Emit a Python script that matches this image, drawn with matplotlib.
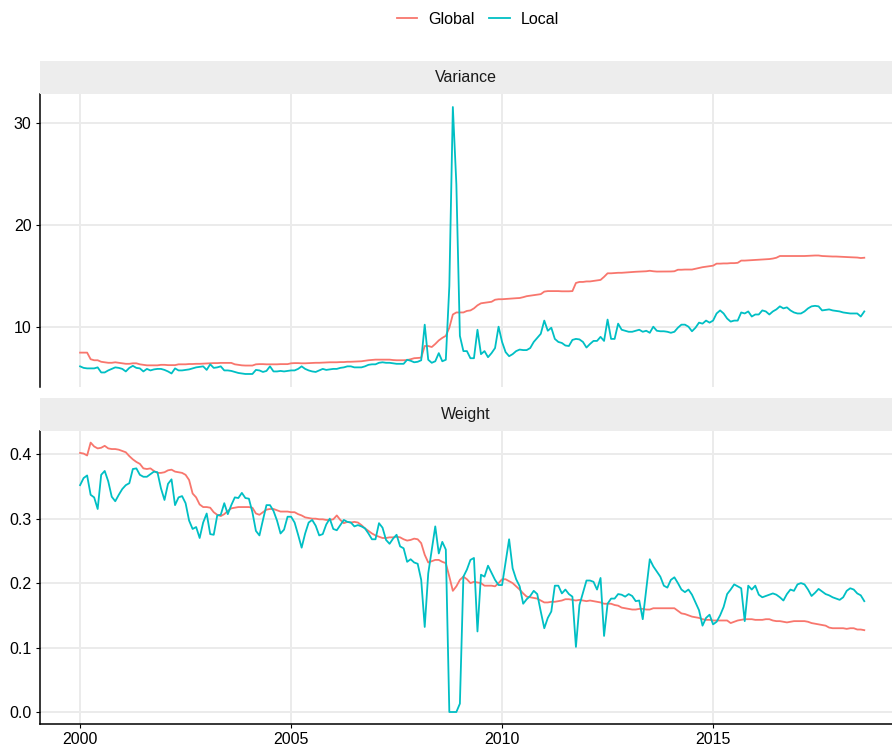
import numpy as np
import pandas as pd
import matplotlib
matplotlib.use("Agg")
import matplotlib.pyplot as plt
from matplotlib.lines import Line2D

plt.rcParams['font.family'] = ['Liberation Sans', 'DejaVu Sans']

# monthly observations, Jan 2000 .. Aug 2018
dates = pd.date_range("2000-01-01", periods=224, freq="MS")

variance_global = [
    7.45, 7.45, 7.45, 6.8, 6.7, 6.7, 6.55, 6.5, 6.45, 6.45, 6.5, 6.45,
    6.4, 6.35, 6.35, 6.4, 6.4, 6.3, 6.25, 6.2, 6.2, 6.2, 6.2, 6.25,
    6.25, 6.22, 6.22, 6.22, 6.3, 6.3, 6.3, 6.33, 6.33, 6.35, 6.35, 6.37,
    6.38, 6.4, 6.42, 6.42, 6.44, 6.44, 6.44, 6.44, 6.3, 6.25, 6.2, 6.18,
    6.18, 6.18, 6.3, 6.32, 6.32, 6.3, 6.3, 6.3, 6.3, 6.32, 6.32, 6.32,
    6.4, 6.42, 6.42, 6.4, 6.4, 6.42, 6.45, 6.45, 6.45, 6.47, 6.48, 6.5,
    6.5, 6.5, 6.52, 6.52, 6.55, 6.55, 6.57, 6.6, 6.6, 6.65, 6.7, 6.73,
    6.76, 6.76, 6.76, 6.76, 6.76, 6.72, 6.7, 6.7, 6.7, 6.72, 6.8, 6.9,
    6.92, 6.95, 8.1, 8.1, 8.0, 8.3, 8.65, 8.9, 9.1, 9.9, 11.2, 11.4,
    11.4, 11.4, 11.55, 11.6, 11.8, 12.1, 12.3, 12.35, 12.4, 12.45, 12.65, 12.7,
    12.7, 12.72, 12.75, 12.78, 12.8, 12.82, 12.9, 13.0, 13.05, 13.1, 13.15, 13.2,
    13.45, 13.5, 13.5, 13.5, 13.5, 13.48, 13.48, 13.48, 13.5, 14.3, 14.4, 14.4,
    14.45, 14.45, 14.5, 14.55, 14.6, 14.9, 15.25, 15.25, 15.28, 15.3, 15.3, 15.32,
    15.35, 15.38, 15.4, 15.42, 15.45, 15.45, 15.5, 15.45, 15.42, 15.42, 15.42, 15.42,
    15.43, 15.45, 15.6, 15.6, 15.62, 15.62, 15.62, 15.7, 15.78, 15.85, 15.9, 15.95,
    16.0, 16.2, 16.2, 16.22, 16.22, 16.25, 16.25, 16.28, 16.5, 16.5, 16.52, 16.55,
    16.55, 16.58, 16.6, 16.62, 16.65, 16.7, 16.78, 16.95, 16.95, 16.95, 16.95, 16.95,
    16.95, 16.95, 16.95, 16.97, 16.98, 17.0, 17.0, 16.95, 16.93, 16.92, 16.9, 16.9,
    16.88, 16.86, 16.85, 16.83, 16.82, 16.8, 16.75, 16.78,
]

variance_local = [
    6.1, 5.95, 5.9, 5.9, 5.9, 6.0, 5.5, 5.5, 5.7, 5.85, 6.0, 5.95,
    5.85, 5.6, 5.95, 6.15, 5.95, 5.9, 5.6, 5.85, 5.7, 5.8, 5.85, 5.85,
    5.75, 5.6, 5.4, 5.9, 5.7, 5.7, 5.75, 5.8, 5.9, 6.0, 6.05, 6.1,
    5.75, 6.3, 5.95, 6.0, 6.1, 5.7, 5.7, 5.65, 5.55, 5.45, 5.4, 5.35,
    5.35, 5.35, 5.75, 5.7, 5.55, 5.65, 6.1, 5.6, 5.6, 5.65, 5.6, 5.65,
    5.7, 5.7, 5.85, 6.1, 5.85, 5.7, 5.6, 5.55, 5.7, 5.85, 5.75, 5.8,
    5.85, 5.85, 5.95, 6.0, 6.1, 6.1, 6.0, 6.0, 6.0, 6.1, 6.25, 6.3,
    6.3, 6.45, 6.5, 6.45, 6.45, 6.4, 6.35, 6.35, 6.35, 6.75, 6.65, 6.5,
    6.55, 6.7, 10.2, 6.75, 6.45, 6.6, 7.4, 6.6, 6.75, 14.0, 31.6, 24.0,
    9.1, 7.6, 7.6, 6.9, 6.9, 9.7, 7.3, 7.6, 7.0, 7.4, 7.9, 10.0,
    8.5, 7.5, 7.1, 7.3, 7.6, 7.75, 7.7, 7.7, 7.9, 8.5, 8.9, 9.3,
    10.6, 9.6, 9.9, 8.8, 8.5, 8.4, 8.15, 8.1, 8.7, 8.8, 8.75, 8.5,
    7.95, 8.3, 8.6, 8.6, 9.0, 8.6, 10.7, 8.8, 8.8, 10.3, 9.7, 9.6,
    9.5, 9.5, 9.6, 9.7, 9.5, 9.6, 9.4, 10.0, 9.6, 9.55, 9.55, 9.5,
    9.4, 9.5, 9.9, 10.2, 10.2, 10.0, 9.55, 9.9, 10.4, 10.3, 10.6, 10.4,
    10.6, 11.3, 11.6, 11.3, 10.8, 10.5, 10.6, 10.6, 11.4, 11.3, 11.5, 11.0,
    11.2, 11.2, 11.6, 11.5, 11.2, 11.5, 11.7, 12.0, 11.8, 11.9, 11.6, 11.4,
    11.3, 11.3, 11.5, 11.8, 12.0, 12.05, 12.0, 11.6, 11.65, 11.7, 11.6, 11.55,
    11.5, 11.4, 11.35, 11.3, 11.3, 11.3, 11.0, 11.5,
]

weight_global = [
    0.402, 0.401, 0.398, 0.418, 0.412, 0.409, 0.41, 0.413, 0.409, 0.408, 0.408, 0.407,
    0.405, 0.403, 0.397, 0.392, 0.388, 0.385, 0.378, 0.377, 0.378, 0.374, 0.371, 0.371,
    0.372, 0.375, 0.376, 0.373, 0.372, 0.371, 0.368, 0.36, 0.339, 0.333, 0.322, 0.318,
    0.318, 0.317, 0.31, 0.306, 0.304, 0.307, 0.312, 0.316, 0.317, 0.318, 0.318, 0.318,
    0.318, 0.317, 0.308, 0.306, 0.31, 0.314, 0.315, 0.315, 0.313, 0.311, 0.311, 0.311,
    0.31, 0.31, 0.307, 0.305, 0.302, 0.301, 0.3, 0.3, 0.299, 0.299, 0.298, 0.298,
    0.299, 0.305, 0.298, 0.293, 0.295, 0.294, 0.295, 0.294, 0.29, 0.285, 0.281, 0.277,
    0.274, 0.272, 0.27, 0.27, 0.271, 0.271, 0.272, 0.271, 0.268, 0.266, 0.267, 0.269,
    0.268, 0.262, 0.244, 0.232, 0.234, 0.236, 0.236, 0.233, 0.231, 0.21, 0.188, 0.195,
    0.205, 0.21, 0.206, 0.2, 0.202, 0.201, 0.2, 0.196, 0.196, 0.196, 0.195, 0.2,
    0.206, 0.206, 0.203, 0.2, 0.195, 0.19, 0.184, 0.179, 0.178, 0.177, 0.176, 0.173,
    0.17, 0.17, 0.171, 0.171, 0.172, 0.173, 0.175, 0.175, 0.174, 0.173, 0.174, 0.173,
    0.172, 0.173, 0.172, 0.171, 0.17, 0.168, 0.168, 0.168, 0.166, 0.165, 0.162, 0.161,
    0.16, 0.159, 0.159, 0.16, 0.16, 0.159, 0.159, 0.161, 0.161, 0.161, 0.161, 0.161,
    0.161, 0.161, 0.157, 0.153, 0.152, 0.15, 0.148, 0.147, 0.146, 0.144, 0.143, 0.143,
    0.142, 0.142, 0.142, 0.142, 0.142, 0.138, 0.14, 0.142, 0.143, 0.144, 0.144, 0.144,
    0.143, 0.143, 0.143, 0.144, 0.144, 0.142, 0.141, 0.141, 0.14, 0.139, 0.14, 0.141,
    0.141, 0.141, 0.141, 0.14, 0.138, 0.137, 0.136, 0.135, 0.134, 0.131, 0.13, 0.13,
    0.13, 0.13, 0.129, 0.13, 0.13, 0.128, 0.128, 0.127,
]

weight_local = [
    0.352, 0.363, 0.367, 0.337, 0.333, 0.315, 0.368, 0.374, 0.358, 0.334, 0.327, 0.337,
    0.346, 0.352, 0.355, 0.377, 0.378, 0.368, 0.365, 0.365, 0.369, 0.373, 0.372, 0.347,
    0.329, 0.354, 0.361, 0.321, 0.333, 0.335, 0.324, 0.297, 0.284, 0.287, 0.27, 0.294,
    0.308, 0.276, 0.275, 0.305, 0.306, 0.324, 0.307, 0.321, 0.333, 0.332, 0.34, 0.332,
    0.331, 0.31, 0.281, 0.274, 0.298, 0.321, 0.321, 0.312, 0.297, 0.277, 0.283, 0.303,
    0.303, 0.294, 0.275, 0.255, 0.277, 0.294, 0.298, 0.289, 0.274, 0.276, 0.291, 0.3,
    0.284, 0.282, 0.29, 0.298, 0.295, 0.294, 0.288, 0.29, 0.288, 0.285, 0.277, 0.268,
    0.268, 0.293, 0.286, 0.267, 0.261, 0.269, 0.275, 0.257, 0.254, 0.233, 0.237, 0.232,
    0.23, 0.205, 0.132, 0.215, 0.252, 0.288, 0.246, 0.264, 0.252, 0.0, 0.0, 0.0,
    0.013, 0.21, 0.221, 0.236, 0.239, 0.125, 0.213, 0.21, 0.227, 0.216, 0.205, 0.197,
    0.197, 0.233, 0.268, 0.223, 0.206, 0.195, 0.168, 0.175, 0.18, 0.188, 0.183, 0.156,
    0.13, 0.146, 0.156, 0.196, 0.196, 0.184, 0.19, 0.183, 0.179, 0.101, 0.166, 0.185,
    0.204, 0.204, 0.202, 0.19, 0.208, 0.118, 0.168, 0.176, 0.176, 0.183, 0.182, 0.179,
    0.183, 0.18, 0.172, 0.173, 0.144, 0.19, 0.237, 0.226, 0.218, 0.21, 0.196, 0.193,
    0.205, 0.209, 0.2, 0.19, 0.186, 0.19, 0.182, 0.17, 0.158, 0.134, 0.146, 0.151,
    0.136, 0.14, 0.15, 0.163, 0.183, 0.19, 0.198, 0.195, 0.192, 0.141, 0.196, 0.19,
    0.196, 0.182, 0.178, 0.18, 0.182, 0.184, 0.182, 0.178, 0.173, 0.183, 0.19, 0.188,
    0.198, 0.2, 0.198, 0.19, 0.18, 0.185, 0.191, 0.187, 0.183, 0.181, 0.178, 0.176,
    0.174, 0.178, 0.188, 0.192, 0.19, 0.184, 0.181, 0.172,
]

panels = ["Variance", "Weight"]
series = ["Global", "Local"]
colors = {"Global": "#F8766D", "Local": "#00BFC4"}
data = {
    "Variance": {"Global": variance_global, "Local": variance_local},
    "Weight": {"Global": weight_global, "Local": weight_local},
}
year_ticks = [2000, 2005, 2010, 2015]
y_ticks = {"Variance": [10, 20, 30], "Weight": [0.0, 0.1, 0.2, 0.3, 0.4]}
y_labels = {"Variance": ["10", "20", "30"],
            "Weight": ["0.0", "0.1", "0.2", "0.3", "0.4"]}
y_lims = {"Variance": (4.07, 32.88), "Weight": (-0.0186, 0.436)}

x = dates.year + (dates.month - 1) / 12.0

W, H = 892, 747
fig = plt.figure(figsize=(W / 100, H / 100), dpi=100)
fig.patch.set_facecolor("white")

# pixel boxes: (strip top, panel top, panel bottom)
boxes = {"Variance": (61, 94, 387), "Weight": (398, 431, 724)}
left_px, right_px = 40, 892

for name in panels:
    s_top, p_top, p_bot = boxes[name]
    ax = fig.add_axes([left_px / W, 1 - p_bot / H, (right_px - left_px) / W, (p_bot - p_top) / H])
    sx = fig.add_axes([left_px / W, 1 - p_top / H, (right_px - left_px) / W, (p_top - s_top) / H])
    sx.set_facecolor("#EDEDED")
    sx.set_xticks([]); sx.set_yticks([])
    for sp in sx.spines.values():
        sp.set_visible(False)
    sx.text(0.5, 0.5, name, ha="center", va="center", fontsize=11.5, color="#1A1A1A",
            transform=sx.transAxes)

    for s in series:
        ax.plot(x, data[name][s], color=colors[s], lw=1.3, zorder=3)

    ax.set_xlim(1999.05, 2019.24)
    ax.set_ylim(*y_lims[name])
    ax.set_xticks(year_ticks)
    ax.set_yticks(y_ticks[name])
    ax.set_yticklabels(y_labels[name])
    ax.grid(True, color="#EBEBEB", lw=1.4, zorder=0)
    ax.set_axisbelow(True)
    for sp in ["top", "right"]:
        ax.spines[sp].set_visible(False)
    ax.spines["left"].set_linewidth(1.1)
    ax.spines["bottom"].set_linewidth(1.1)
    ax.tick_params(axis="both", labelsize=11.5, colors="black", length=3, width=0.8, pad=3)
    if name == "Variance":
        ax.spines["bottom"].set_visible(False)
        ax.tick_params(axis="x", length=0, labelbottom=False)

handles = [Line2D([], [], color=colors[s], lw=1.3) for s in series]
fig.legend(handles, series, loc="center", bbox_to_anchor=(478 / W, 1 - 19 / H), ncol=2,
           frameon=False, fontsize=11.5, handlelength=1.3, handletextpad=0.7,
           columnspacing=0.9)

fig.savefig("out.png", dpi=100)
